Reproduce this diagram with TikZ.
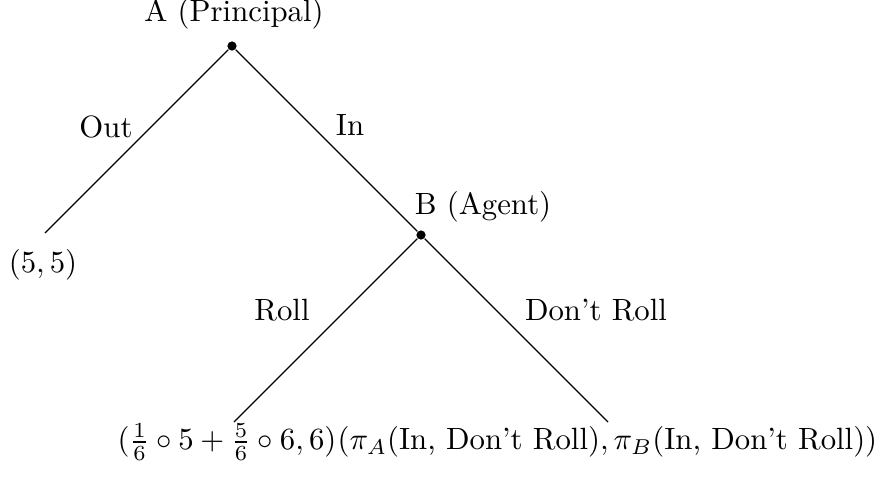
\documentclass[tikz,border=0pt]{standalone}
\usepackage{amsmath}
\begin{document}
\begin{tikzpicture}[x=0.325pt,y=-0.325pt,
  dotnode/.style={circle,fill=black,inner sep=0pt,minimum size=3pt},
  edge/.style={draw=black,line width=0.4pt},
  lbl/.style={inner sep=0pt,font=\normalsize}]
\useasboundingbox (0,0) rectangle (883,480);
\node[dotnode] (A) at (232,46) {};
\node[dotnode] (B) at (421,235) {};
\coordinate (out) at (45,233);
\coordinate (roll) at (234,422);
\coordinate (dont) at (608,422);
\draw[edge] (A) -- (out);
\draw[edge] (A) -- (B);
\draw[edge] (B) -- (roll);
\draw[edge] (B) -- (dont);
\node[lbl] (Alab) at (234,14) {A (Principal)};
\node[lbl] (Blab) at (483,207) {B (Agent)};
\node[lbl] (outlab) at (106,127) {Out};
\node[lbl] (inlab) at (350,125) {In};
\node[lbl] (rolllab) at (282,310) {Roll};
\node[lbl] (dontlab) at (596,310) {Don't Roll};
\node[lbl] (p1) at (43,265) {$(5,5)$};
\node[lbl,anchor=east] (p2) at (337,442) {$(\frac{1}{6}\circ 5+\frac{5}{6}\circ 6,6)$};
\node[lbl,anchor=west] (p3) at (p2.east) {$(\pi_A(\text{In, Don't Roll}),\pi_B(\text{In, Don't Roll}))$};
\end{tikzpicture}
\end{document}
